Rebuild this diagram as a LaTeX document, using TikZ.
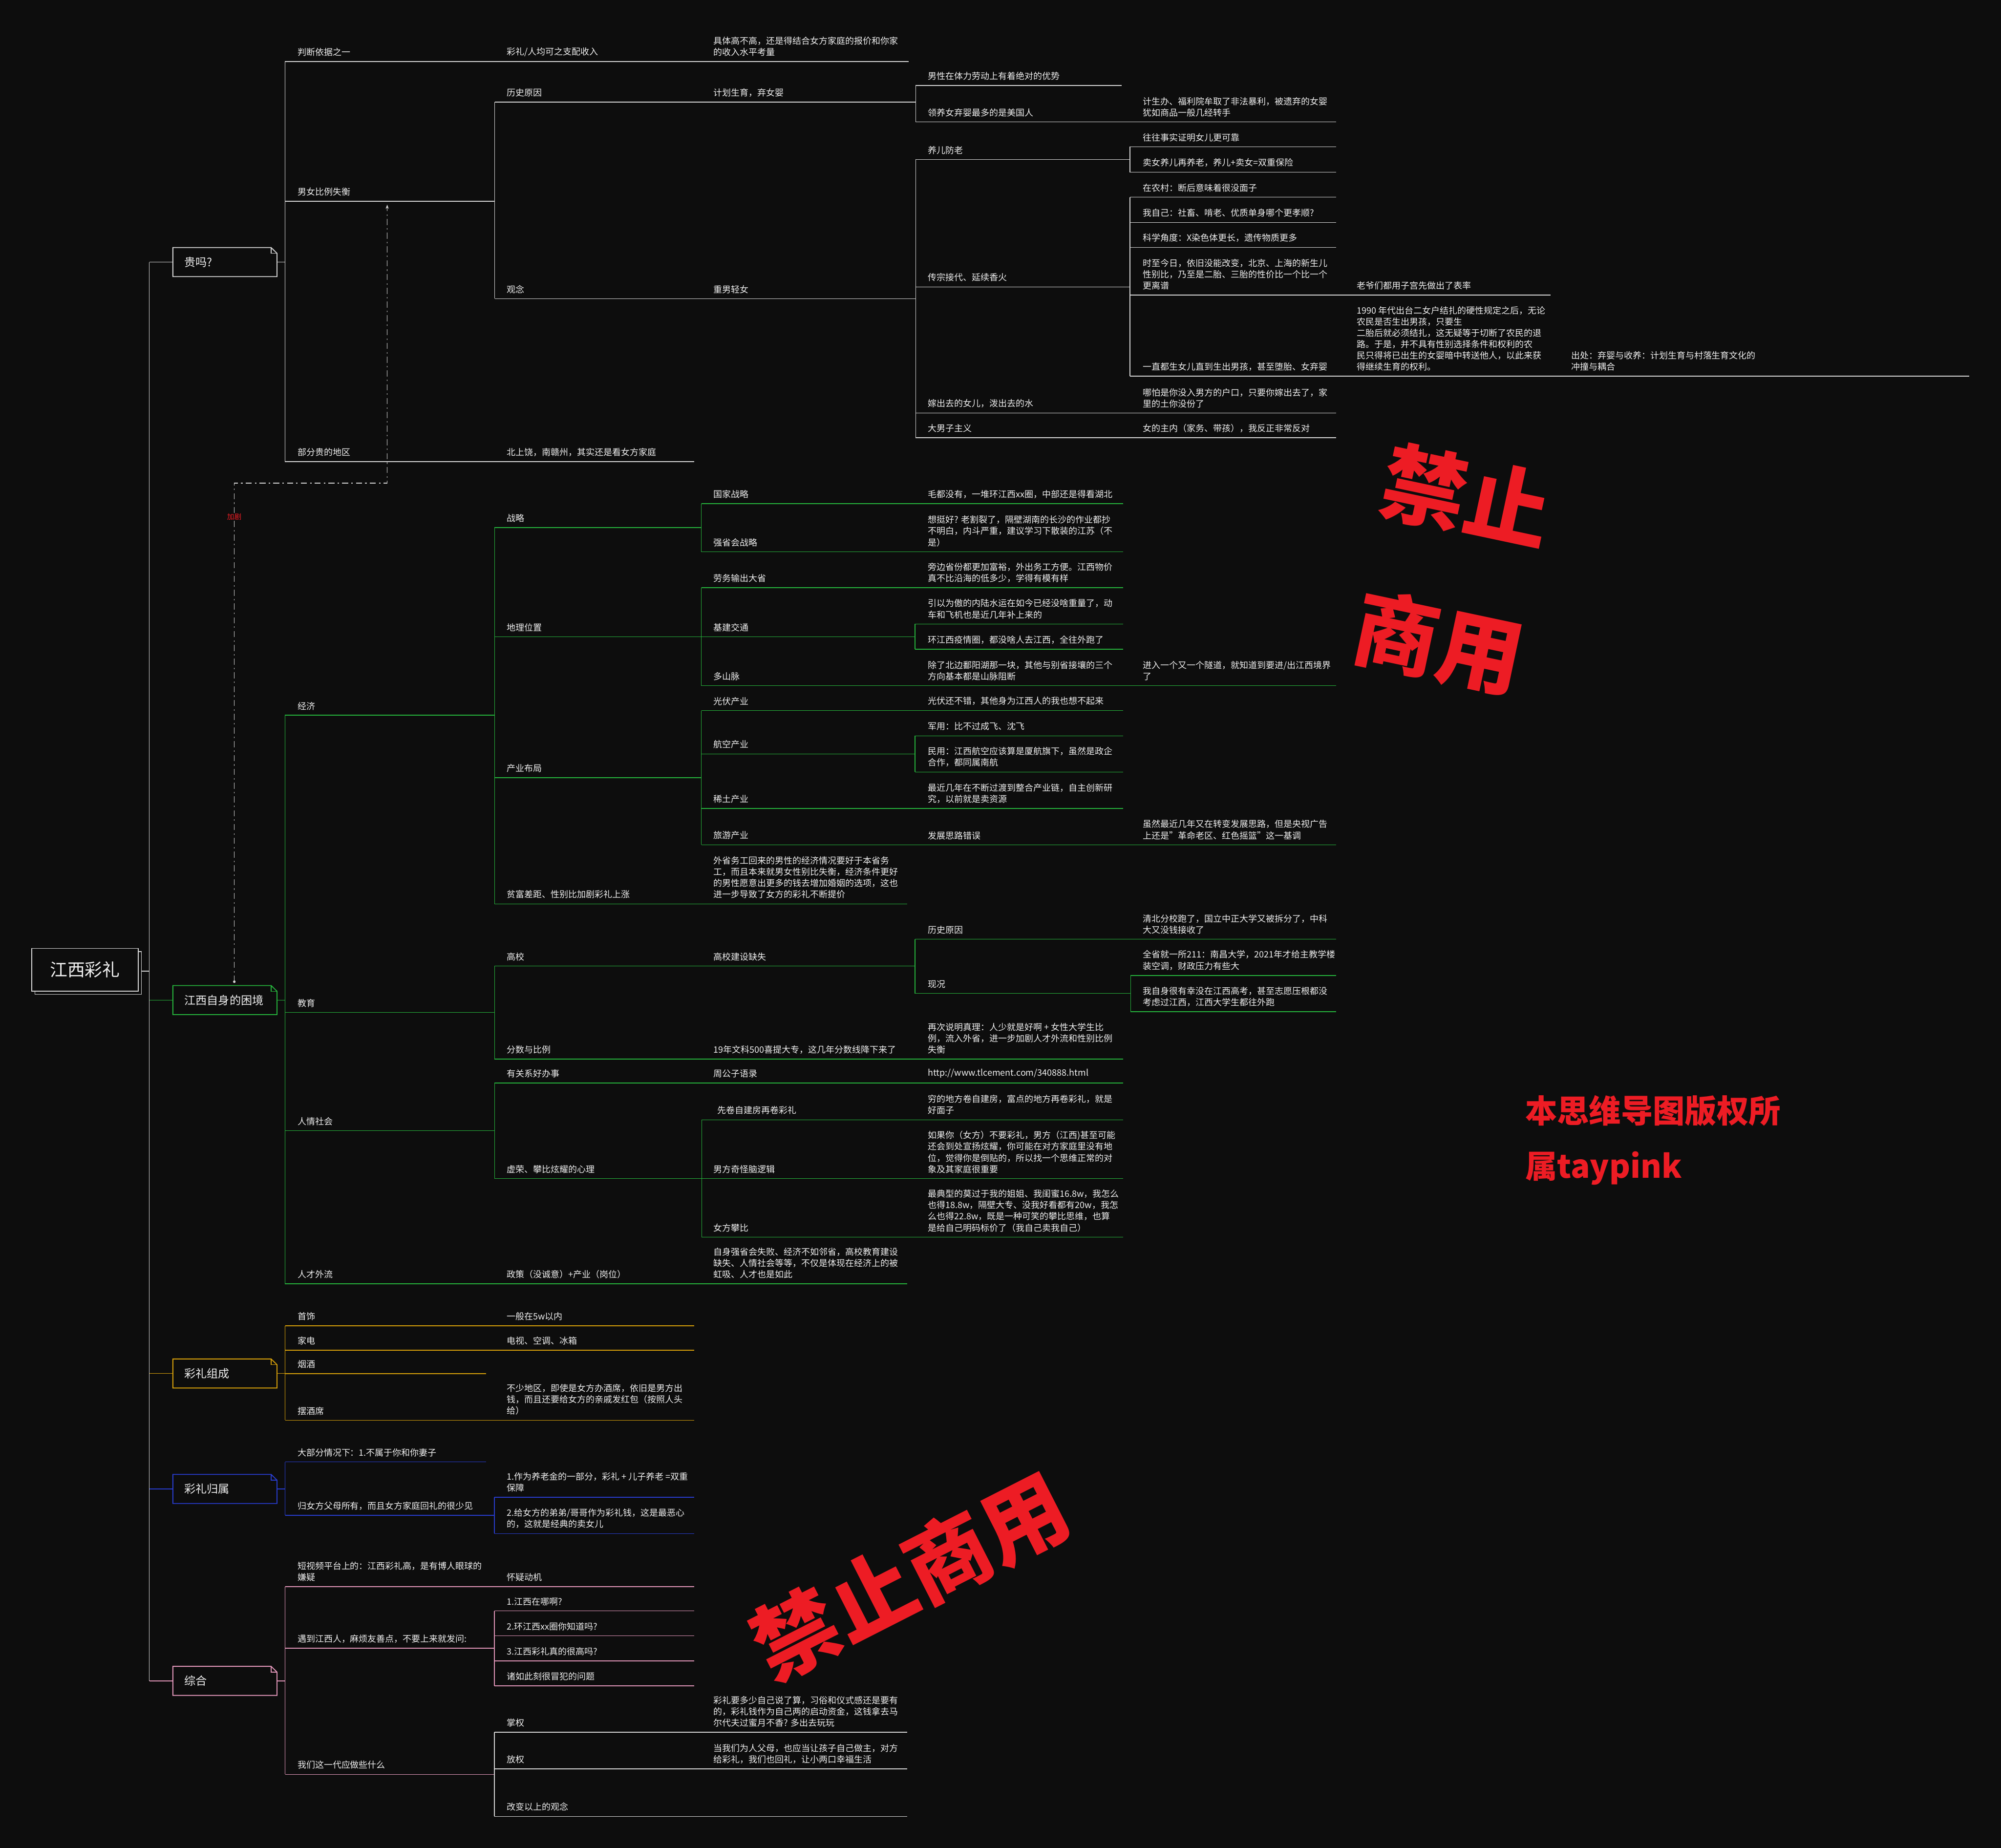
\documentclass[tikz,border=0pt]{standalone}
\usepackage{fontspec}
\setmainfont{Noto Sans CJK SC}
\usetikzlibrary{arrows.meta}
\definecolor{bg}{RGB}{13,13,13}
\definecolor{txt}{RGB}{240,240,240}
\definecolor{cw}{RGB}{215,215,215}
\definecolor{cg}{RGB}{38,180,60}
\definecolor{cy}{RGB}{215,160,10}
\definecolor{cb}{RGB}{40,60,205}
\definecolor{cp}{RGB}{225,150,185}
\definecolor{wm}{RGB}{237,28,36}
\newcommand\mmN[4]{\node[lbl] (#1) at (#2,#3) {#4};}
\newcommand\mmH[4]{\draw[#1] (#2,#4) -- (#3,#4);}
\newcommand\mmV[4]{\draw[#1] (#2,#3) -- (#2,#4);}
\newcommand\foldbox[2]{%
  \draw[#2,line width=1pt] (#1.south west) -- (#1.north west) -- ([xshift=-2.3mm]#1.north east) -- ([yshift=-2.25mm]#1.north east) -- (#1.south east) -- cycle;
  \draw[#2,line width=0.8pt] ([xshift=-2.3mm]#1.north east) -- ([xshift=-2.3mm,yshift=-2.25mm]#1.north east) -- ([yshift=-2.25mm]#1.north east);}
\begin{document}
\begin{tikzpicture}[x=0.5mm,y=-0.5mm,
  lbl/.style={anchor=south west, inner sep=0pt, yshift=2mm, align=left, text=txt, font=\fontsize{9.8pt}{12.6pt}\selectfont},
  topic/.style={minimum height=11.25mm, text width=31.75mm, inner xsep=4.45mm, inner ysep=0pt, align=left, text=txt, font=\fontsize{12.6pt}{14pt}\selectfont},
  ln/.style={line width=0.8pt},
  lw/.style={ln, cw}, lg/.style={ln, cg}, ly/.style={ln, cy}, lb/.style={ln, cb}, lp/.style={ln, cp},
  rel/.style={cw, line width=0.8pt, dash pattern=on 2.4mm off 1.2mm on 0.6mm off 1.2mm},
  wmk/.style={text=wm, inner sep=0pt, font=\bfseries\fontsize{95pt}{95pt}\selectfont}]
\fill[bg] (0,0) rectangle (1568,1448);
\useasboundingbox (0,0) rectangle (1568,1448);

% trunk and root
\draw[lw] (117,205.4) -- (117,1317.2);
\draw[cw, line width=0.8pt, fill=bg] (27.4,745.7) rectangle (110.9,779.2);
\node[draw=cw, line width=1pt, fill=bg, minimum width=41.8mm, minimum height=16.75mm, text=txt, font=\fontsize{19.5pt}{22pt}\selectfont] (root) at (66.6,760) {江西彩礼};
\draw[lw] (110.9,761) -- (117,761);

% ===== 贵吗? =====
\node[topic] (t1) at (176.25,205.4) {贵吗?};
\foldbox{t1}{cw}
\draw[lw] (117,205.4) -- (t1.west);
\draw[lw] (t1.east) -- (223.3,205.4);
\mmV{lw}{223.3}{48.3}{361.7}

\mmN{a1}{233}{48.3}{判断依据之一}
\mmN{a2}{397}{48.3}{彩礼/人均可之支配收入}
\mmN{a3}{559}{48.3}{具体高不高，还是得结合女方家庭的报价和你家\\的收入水平考量}
\mmH{lw}{223.3}{712}{48.3}

\mmN{b1}{233}{157.7}{男女比例失衡}
\mmH{lw}{223.3}{387.6}{157.7}
\mmV{lw}{387.6}{80}{234}
\mmN{b2}{397}{80}{历史原因}
\mmN{b3}{559}{80}{计划生育，弃女婴}
\mmH{lw}{387.6}{717.5}{80}
\mmV{lw}{717.5}{67}{95.5}
\mmN{b4}{727}{67}{男性在体力劳动上有着绝对的优势}
\mmH{lw}{717.5}{879}{67}
\mmN{b5}{727}{95.5}{领养女弃婴最多的是美国人}
\mmN{b6}{895.5}{95.5}{计生办、福利院牟取了非法暴利，被遗弃的女婴\\犹如商品一般几经转手}
\mmH{lw}{717.5}{1047}{95.5}

\mmN{c1}{397}{234}{观念}
\mmN{c2}{559}{234}{重男轻女}
\mmH{lw}{387.6}{717.5}{234}
\mmV{lw}{717.5}{125}{343}
\mmN{c3}{727}{125}{养儿防老}
\mmH{lw}{717.5}{885.5}{125}
\mmV{lw}{885.5}{115}{135}
\mmN{c4}{895.5}{115}{往往事实证明女儿更可靠}
\mmH{lw}{885.5}{1047}{115}
\mmN{c5}{895.5}{135}{卖女养儿再养老，养儿+卖女=双重保险}
\mmH{lw}{885.5}{1047}{135}
\mmN{c6}{727}{224.8}{传宗接代、延续香火}
\mmH{lw}{717.5}{885.5}{224.8}
\mmV{lw}{885.5}{154.5}{294.8}
\mmN{c7}{895.5}{154.5}{在农村：断后意味着很没面子}
\mmH{lw}{885.5}{1047}{154.5}
\mmN{c8}{895.5}{174.3}{我自己：社畜、啃老、优质单身哪个更孝顺?}
\mmH{lw}{885.5}{1047}{174.3}
\mmN{c9}{895.5}{193.8}{科学角度：X染色体更长，遗传物质更多}
\mmH{lw}{885.5}{1047}{193.8}
\mmN{c10}{895.5}{231.2}{时至今日，依旧没能改变，北京、上海的新生儿\\性别比，乃至是二胎、三胎的性价比一个比一个\\更离谱}
\mmN{c11}{1063}{231.2}{老爷们都用子宫先做出了表率}
\mmH{lw}{885.5}{1215}{231.2}
\mmN{c12}{895.5}{294.8}{一直都生女儿直到生出男孩，甚至堕胎、女弃婴}
\mmN{c13}{1063}{294.8}{1990 年代出台二女户结扎的硬性规定之后，无论\\农民是否生出男孩，只要生\\二胎后就必须结扎，这无疑等于切断了农民的退\\路。于是，并不具有性别选择条件和权利的农\\民只得将已出生的女婴暗中转送他人，以此来获\\得继续生育的权利。}
\mmN{c14}{1231}{294.8}{出处：弃婴与收养：计划生育与村落生育文化的\\冲撞与耦合}
\mmH{lw}{885.5}{1543}{294.8}
\mmN{c15}{727}{323.7}{嫁出去的女儿，泼出去的水}
\mmN{c16}{895.5}{323.7}{哪怕是你没入男方的户口，只要你嫁出去了，家\\里的土你没份了}
\mmH{lw}{717.5}{1047}{323.7}
\mmN{c17}{727}{343}{大男子主义}
\mmN{c18}{895.5}{343}{女的主内（家务、带孩），我反正非常反对}
\mmH{lw}{717.5}{1047}{343}

\mmN{d1}{233}{361.7}{部分贵的地区}
\mmN{d2}{397}{361.7}{北上饶，南赣州，其实还是看女方家庭}
\mmH{lw}{223.3}{544}{361.7}

% ===== 江西自身的困境 =====
\node[topic] (t2) at (176.25,783.7) {江西自身的困境};
\foldbox{t2}{cg}
\draw[lg] (117,783.7) -- (t2.west);
\draw[lg] (t2.east) -- (223.3,783.7);
\mmV{lg}{223.3}{560.5}{1006}

\mmN{e1}{233}{560.5}{经济}
\mmH{lg}{223.3}{387.5}{560.5}
\mmV{lg}{387.5}{413.5}{708.3}
\mmN{e2}{397}{413.5}{战略}
\mmH{lg}{387.5}{549.6}{413.5}
\mmV{lg}{549.6}{394.7}{432.4}
\mmN{e3}{559}{394.7}{国家战略}
\mmN{e4}{727}{394.7}{毛都没有，一堆环江西xx圈，中部还是得看湖北}
\mmH{lg}{549.6}{880}{394.7}
\mmN{e5}{559}{432.4}{强省会战略}
\mmN{e6}{727}{432.4}{想挺好? 老割裂了，隔壁湖南的长沙的作业都抄\\不明白，内斗严重，建议学习下散装的江苏（不\\是）}
\mmH{lg}{549.6}{880}{432.4}

\mmN{f1}{397}{499}{地理位置}
\mmH{lg}{387.5}{549.6}{499}
\mmV{lg}{549.6}{460.5}{537.3}
\mmN{f2}{559}{460.5}{劳务输出大省}
\mmN{f3}{727}{460.5}{旁边省份都更加富裕，外出务工方便。江西物价\\真不比沿海的低多少，学得有模有样}
\mmH{lg}{549.6}{880}{460.5}
\mmN{f4}{559}{499}{基建交通}
\mmH{lg}{549.6}{717}{499}
\mmV{lg}{717}{489}{508.8}
\mmN{f5}{727}{489}{引以为傲的内陆水运在如今已经没啥重量了，动\\车和飞机也是近几年补上来的}
\mmH{lg}{717}{880}{489}
\mmN{f6}{727}{508.8}{环江西疫情圈，都没啥人去江西，全往外跑了}
\mmH{lg}{717}{880}{508.8}
\mmN{f7}{559}{537.3}{多山脉}
\mmN{f8}{727}{537.3}{除了北边鄱阳湖那一块，其他与别省接壤的三个\\方向基本都是山脉阻断}
\mmN{f9}{895.5}{537.3}{进入一个又一个隧道，就知道到要进/出江西境界\\了}
\mmH{lg}{549.6}{1047}{537.3}

\mmN{g1}{397}{609.5}{产业布局}
\mmH{lg}{387.5}{549.6}{609.5}
\mmV{lg}{549.6}{556.8}{662}
\mmN{g2}{559}{556.8}{光伏产业}
\mmN{g3}{727}{556.8}{光伏还不错，其他身为江西人的我也想不起来}
\mmH{lg}{549.6}{880}{556.8}
\mmN{g4}{559}{590.8}{航空产业}
\mmH{lg}{549.6}{717}{590.8}
\mmV{lg}{717}{576.6}{605}
\mmN{g5}{727}{576.6}{军用：比不过成飞、沈飞}
\mmH{lg}{717}{880}{576.6}
\mmN{g6}{727}{605}{民用：江西航空应该算是厦航旗下，虽然是政企\\合作，都同属南航}
\mmH{lg}{717}{880}{605}
\mmN{g7}{559}{633.6}{稀土产业}
\mmN{g8}{727}{633.6}{最近几年在不断过渡到整合产业链，自主创新研\\究，以前就是卖资源}
\mmH{lg}{549.6}{880}{633.6}
\mmN{g9}{559}{662}{旅游产业}
\mmN{g10}{727}{662}{发展思路错误}
\mmN{g11}{895.5}{662}{虽然最近几年又在转变发展思路，但是央视广告\\上还是"革命老区、红色摇篮"这一基调}
\mmH{lg}{549.6}{1047}{662}

\mmN{h1}{397}{708.3}{贫富差距、性别比加剧彩礼上涨}
\mmN{h2}{559}{708.3}{外省务工回来的男性的经济情况要好于本省务\\工，而且本来就男女性别比失衡，经济条件更好\\的男性愿意出更多的钱去增加婚姻的选项，这也\\进一步导致了女方的彩礼不断提价}
\mmH{lg}{387.5}{711}{708.3}

\mmN{i1}{233}{793.4}{教育}
\mmH{lg}{223.3}{387.5}{793.4}
\mmV{lg}{387.5}{757}{830}
\mmN{i2}{397}{757}{高校}
\mmN{i3}{559}{757}{高校建设缺失}
\mmH{lg}{387.5}{717}{757}
\mmV{lg}{717}{736}{778.5}
\mmN{i4}{727}{736}{历史原因}
\mmN{i5}{895.5}{736}{清北分校跑了，国立中正大学又被拆分了，中科\\大又没钱接收了}
\mmH{lg}{717}{1047}{736}
\mmN{i6}{727}{778.5}{现况}
\mmH{lg}{717}{886}{778.5}
\mmV{lg}{886}{764.4}{792.8}
\mmN{i7}{895.5}{764.4}{全省就一所211：南昌大学，2021年才给主教学楼\\装空调，财政压力有些大}
\mmH{lg}{886}{1047}{764.4}
\mmN{i8}{895.5}{792.8}{我自身很有幸没在江西高考，甚至志愿压根都没\\考虑过江西，江西大学生都往外跑}
\mmH{lg}{886}{1047}{792.8}
\mmN{i9}{397}{830}{分数与比例}
\mmN{i10}{559}{830}{19年文科500喜提大专，这几年分数线降下来了}
\mmN{i11}{727}{830}{再次说明真理：人少就是好啊 + 女性大学生比\\例，流入外省，进一步加剧人才外流和性别比例\\失衡}
\mmH{lg}{387.5}{880}{830}

\mmN{j1}{233}{886}{人情社会}
\mmH{lg}{223.3}{387.5}{886}
\mmV{lg}{387.5}{848.7}{923.5}
\mmN{j2}{397}{848.7}{有关系好办事}
\mmN{j3}{559}{848.7}{周公子语录}
\mmN{j4}{727}{848.7}{http://www.tlcement.com/340888.html}
\mmH{lg}{387.5}{880}{848.7}
\mmN{j5}{397}{923.5}{虚荣、攀比炫耀的心理}
\mmH{lg}{387.5}{550}{923.5}
\mmV{lg}{550}{877.5}{969.5}
\mmN{j6}{562}{877.5}{先卷自建房再卷彩礼}
\mmN{j7}{727}{877.5}{穷的地方卷自建房，富点的地方再卷彩礼，就是\\好面子}
\mmH{lg}{550}{880}{877.5}
\mmN{j8}{559}{923.5}{男方奇怪脑逻辑}
\mmN{j9}{727}{923.5}{如果你（女方）不要彩礼，男方（江西)甚至可能\\还会到处宣扬炫耀，你可能在对方家庭里没有地\\位，觉得你是倒贴的，所以找一个思维正常的对\\象及其家庭很重要}
\mmH{lg}{550}{880}{923.5}
\mmN{j10}{559}{969.5}{女方攀比}
\mmN{j11}{727}{969.5}{最典型的莫过于我的姐姐、我闺蜜16.8w，我怎么\\也得18.8w，隔壁大专、没我好看都有20w，我怎\\么也得22.8w，既是一种可笑的攀比思维，也算\\是给自己明码标价了（我自己卖我自己）}
\mmH{lg}{550}{880}{969.5}

\mmN{k1}{233}{1006}{人才外流}
\mmN{k2}{397}{1006}{政策（没诚意）+产业（岗位）}
\mmN{k3}{559}{1006}{自身强省会失败、经济不如邻省，高校教育建设\\缺失、人情社会等等，不仅是体现在经济上的被\\虹吸、人才也是如此}
\mmH{lg}{223.3}{711}{1006}

% ===== relation =====
\coordinate (rs) at (183.6,769.3);
\coordinate (re) at (303.4,160.4);
\draw[rel, -{Stealth[length=1.6mm,width=1.2mm]}] (rs) -- (183.6,378.6) -- (303.4,378.6) -- (re);
\fill[cw] (rs) circle (0.5mm);
\node[fill=bg, inner sep=0.3pt, text=wm, font=\fontsize{8pt}{9pt}\selectfont] (rl) at (183.6,405) {加剧};

% ===== 彩礼组成 =====
\node[topic] (t3) at (176.25,1076.3) {彩礼组成};
\foldbox{t3}{cy}
\draw[ly] (117,1076.3) -- (t3.west);
\draw[ly] (t3.east) -- (223.4,1076.3);
\mmV{ly}{223.4}{1039}{1113}
\mmN{m1}{233}{1039}{首饰}
\mmN{m2}{397}{1039}{一般在5w以内}
\mmH{ly}{223.4}{544}{1039}
\mmN{m3}{233}{1058}{家电}
\mmN{m4}{397}{1058}{电视、空调、冰箱}
\mmH{ly}{223.4}{544}{1058}
\mmN{m5}{233}{1076.5}{烟酒}
\mmH{ly}{223.4}{381}{1076.5}
\mmN{m6}{233}{1113}{摆酒席}
\mmN{m7}{397}{1113}{不少地区，即使是女方办酒席，依旧是男方出\\钱，而且还要给女方的亲戚发红包（按照人头\\给）}
\mmH{ly}{223.4}{544}{1113}

% ===== 彩礼归属 =====
\node[topic] (t4) at (176.25,1166.8) {彩礼归属};
\foldbox{t4}{cb}
\draw[lb] (117,1166.8) -- (t4.west);
\draw[lb] (t4.east) -- (223.4,1166.8);
\mmV{lb}{223.4}{1145.6}{1187.5}
\mmN{n1}{233}{1145.6}{大部分情况下：1.不属于你和你妻子}
\mmH{lb}{223.4}{381}{1145.6}
\mmN{n2}{233}{1187.5}{归女方父母所有，而且女方家庭回礼的很少见}
\mmH{lb}{223.4}{387.4}{1187.5}
\mmV{lb}{387.4}{1173.3}{1201.8}
\mmN{n3}{397}{1173.3}{1.作为养老金的一部分，彩礼 + 儿子养老 =双重\\保障}
\mmH{lb}{387.4}{544}{1173.3}
\mmN{n4}{397}{1201.8}{2.给女方的弟弟/哥哥作为彩礼钱，这是最恶心\\的，这就是经典的卖女儿}
\mmH{lb}{387.4}{544}{1201.8}

% ===== 综合 =====
\node[topic] (t5) at (176.25,1317.2) {综合};
\foldbox{t5}{cp}
\draw[lp] (117,1317.2) -- (t5.west);
\draw[lp] (t5.east) -- (223.4,1317.2);
\mmV{lp}{223.4}{1243.4}{1390.5}
\mmN{p1}{233}{1243.4}{短视频平台上的：江西彩礼高，是有博人眼球的\\嫌疑}
\mmN{p2}{397}{1243.4}{怀疑动机}
\mmH{lp}{223.4}{544}{1243.4}
\mmN{p3}{233}{1291.6}{遇到江西人，麻烦友善点，不要上来就发问:}
\mmH{lp}{223.4}{387.4}{1291.6}
\mmV{lp}{387.4}{1262.4}{1321}
\mmN{p4}{397}{1262.4}{1.江西在哪啊?}
\mmH{lp}{387.4}{544}{1262.4}
\mmN{p5}{397}{1281.8}{2.环江西xx圈你知道吗?}
\mmH{lp}{387.4}{544}{1281.8}
\mmN{p6}{397}{1301.5}{3.江西彩礼真的很高吗?}
\mmH{lp}{387.4}{544}{1301.5}
\mmN{p7}{397}{1321}{诸如此刻很冒犯的问题}
\mmH{lp}{387.4}{544}{1321}
\mmN{q1}{233}{1390.5}{我们这一代应做些什么}
\mmH{lp}{223.4}{387.4}{1390.5}
\mmV{lw}{387.4}{1357.5}{1423.4}
\mmN{q2}{397}{1357.5}{掌权}
\mmN{q3}{559}{1357.5}{彩礼要多少自己说了算，习俗和仪式感还是要有\\的，彩礼钱作为自己两的启动资金，这钱拿去马\\尔代夫过蜜月不香? 多出去玩玩}
\mmH{lw}{387.4}{711}{1357.5}
\mmN{q4}{397}{1386.2}{放权}
\mmN{q5}{559}{1386.2}{当我们为人父母，也应当让孩子自己做主，对方\\给彩礼，我们也回礼，让小两口幸福生活}
\mmH{lw}{387.4}{711}{1386.2}
\mmN{q6}{397}{1423.4}{改变以上的观念}
\mmH{lw}{387.4}{711}{1423.4}

% ===== watermarks =====
\node[wmk, rotate=-12] (w1) at (1149,389) {禁止};
\node[wmk, rotate=-12] (w2) at (1127.5,503.5) {商用};
\node[wmk, rotate=27] (w3) at (713,1235) {禁止商用};
\node[text=wm, inner sep=0pt, anchor=base west, font=\bfseries\fontsize{35.6pt}{40pt}\selectfont] (w4) at (1195,880) {本思维导图版权所};
\node[text=wm, inner sep=0pt, anchor=base west, font=\bfseries\fontsize{35.6pt}{40pt}\selectfont] (w5) at (1195,923) {属taypink};
\end{tikzpicture}
\end{document}
